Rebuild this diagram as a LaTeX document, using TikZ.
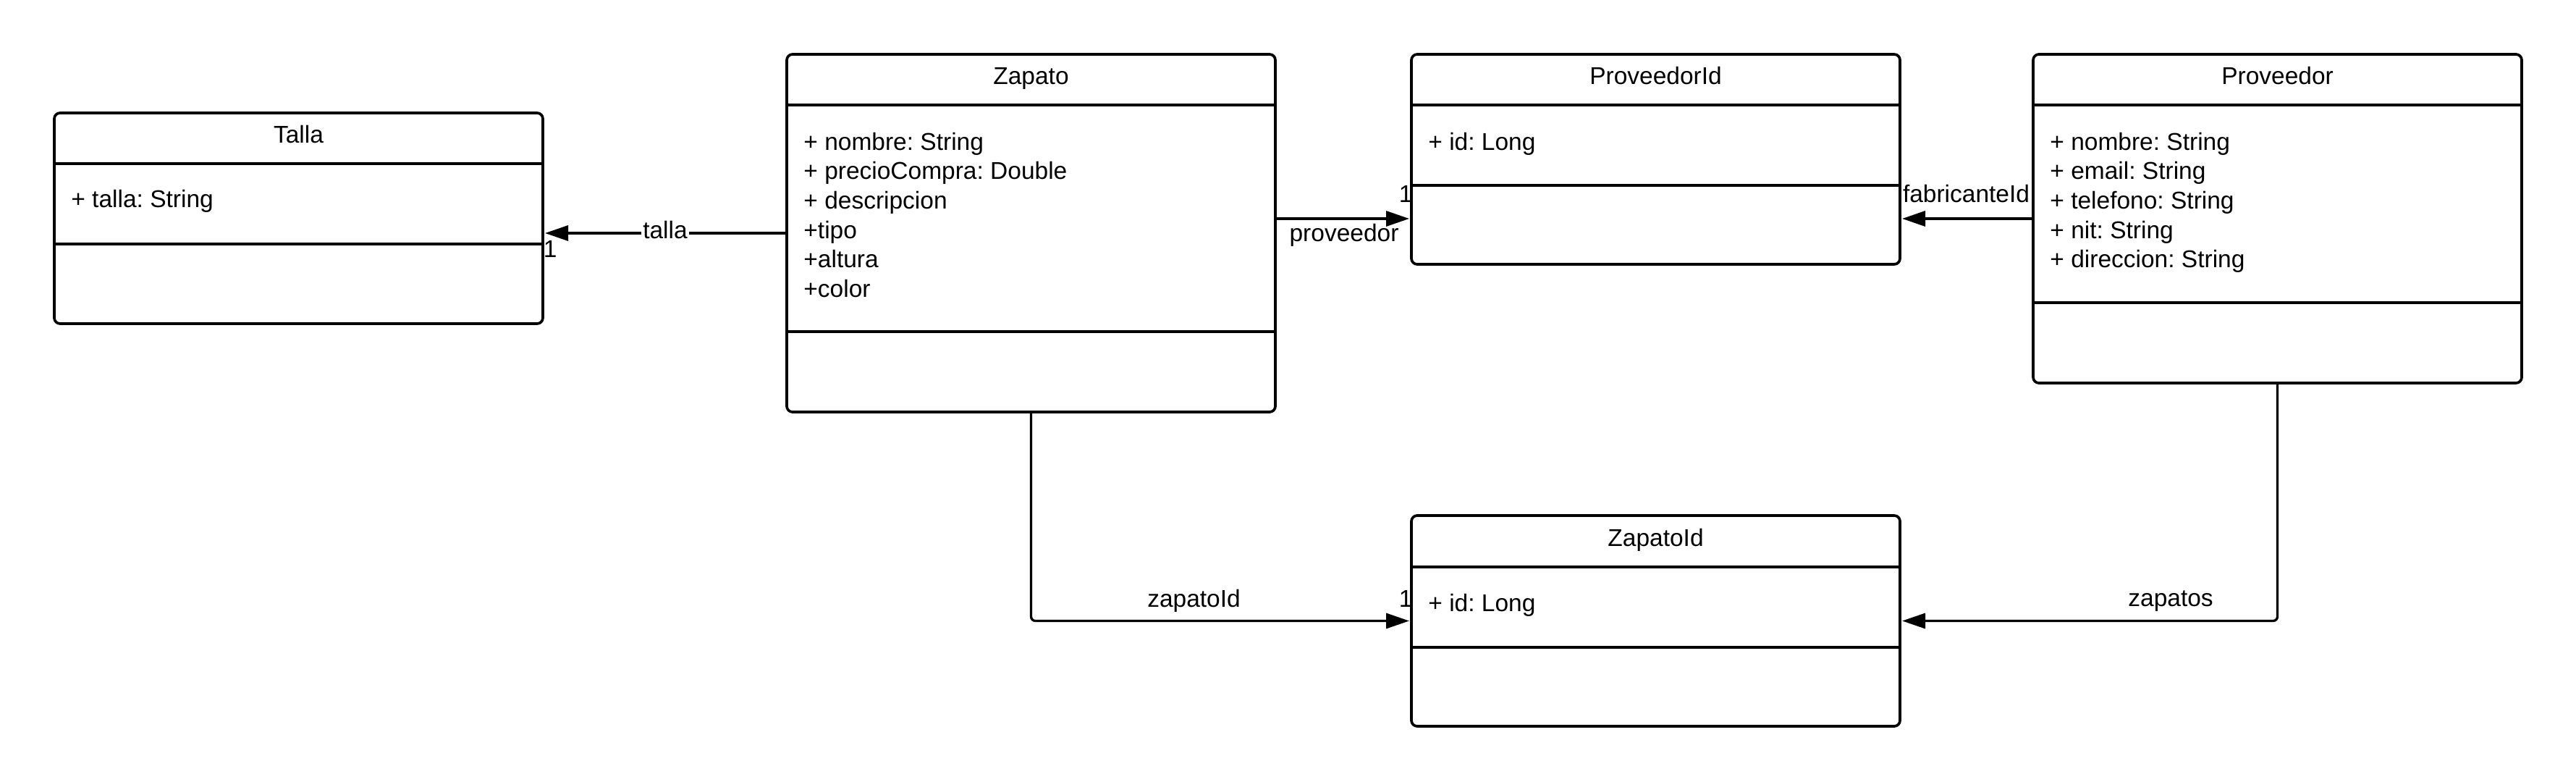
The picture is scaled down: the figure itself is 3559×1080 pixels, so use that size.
\documentclass[tikz,border=0pt]{standalone}
\usepackage{fontspec}
\setmainfont{Liberation Sans}
\usetikzlibrary{arrows.meta}
\frenchspacing
\begin{document}
\frenchspacing
\begin{tikzpicture}[x=0.5pt,y=-0.5pt,
  every node/.style={font=\fontsize{16.75}{20}\selectfont\frenchspacing, inner sep=0pt},
  classbox/.style={draw, line width=1.85pt, rounded corners=4pt, minimum width=337.5pt,
    anchor=north west, inner sep=0pt, outer sep=0pt},
  sepline/.style={line width=1.85pt},
  title/.style={anchor=base},
  attr/.style={anchor=base west},
  conn/.style={line width=1.65pt, rounded corners=3pt,
    -{Triangle[length=16pt,width=10.5pt]}, shorten >=1.5pt},
  lbl/.style={anchor=base},
]
\path[use as bounding box] (0,0) rectangle (3559,1080);

% class boxes
\node[classbox, minimum height=145.5pt] (talla)  at (75,156)   {};
\node[classbox, minimum height=247pt]   (zapato) at (1087,75)  {};
\node[classbox, minimum height=145pt]   (provid) at (1950,75)  {};
\node[classbox, minimum height=227pt]   (prov)   at (2809,75)  {};
\node[classbox, minimum height=145.5pt] (zapid)  at (1950,712) {};

% compartment lines
\draw[sepline] ([yshift=-35pt]talla.north west) -- ([yshift=-35pt]talla.north east);
\draw[sepline] ([yshift=-90.5pt]talla.north west) -- ([yshift=-90.5pt]talla.north east);
\draw[sepline] ([yshift=-35pt]zapato.north west) -- ([yshift=-35pt]zapato.north east);
\draw[sepline] ([yshift=-191.5pt]zapato.north west) -- ([yshift=-191.5pt]zapato.north east);
\draw[sepline] ([yshift=-35pt]provid.north west) -- ([yshift=-35pt]provid.north east);
\draw[sepline] ([yshift=-90.5pt]provid.north west) -- ([yshift=-90.5pt]provid.north east);
\draw[sepline] ([yshift=-35pt]prov.north west) -- ([yshift=-35pt]prov.north east);
\draw[sepline] ([yshift=-171.5pt]prov.north west) -- ([yshift=-171.5pt]prov.north east);
\draw[sepline] ([yshift=-35.5pt]zapid.north west) -- ([yshift=-35.5pt]zapid.north east);
\draw[sepline] ([yshift=-91pt]zapid.north west) -- ([yshift=-91pt]zapid.north east);

% titles
\node[title] (tallaT)  at ([yshift=-21pt]talla.north)  {Talla};
\node[title] (zapatoT) at ([yshift=-21pt]zapato.north) {Zapato};
\node[title] (providT) at ([yshift=-21pt]provid.north) {ProveedorId};
\node[title] (provT)   at ([yshift=-21pt]prov.north)   {Proveedor};
\node[title] (zapidT)  at ([yshift=-21pt]zapid.north)  {ZapatoId};

% attributes
\node[attr] (tallaA1) at ([xshift=11.5pt,yshift=-65.5pt]talla.north west) {+ talla: String};
\foreach \t [count=\i] in {+ nombre: String, + precioCompra: Double, + descripcion, +tipo, +altura, +color}
  \node[attr] (zapatoA\i) at ([xshift=11.5pt,yshift={-66.2pt-(\i-1)*20.3pt}]zapato.north west) {\t};
\node[attr] (providA1) at ([xshift=11.5pt,yshift=-66.2pt]provid.north west) {+ id: Long};
\foreach \t [count=\i] in {+ nombre: String, + email: String, + telefono: String, + nit: String, + direccion: String}
  \node[attr] (provA\i) at ([xshift=11.5pt,yshift={-66.2pt-(\i-1)*20.3pt}]prov.north west) {\t};
\node[attr] (zapidA1) at ([xshift=11.5pt,yshift=-66.2pt]zapid.north west) {+ id: Long};

% connectors
\draw[conn] (zapato.west) -- (zapato.west -| talla.east);
\draw[conn] (zapato.east |- prov.west) -- (provid.west |- prov.west);
\draw[conn] (prov.west) -- (prov.west -| provid.east);
\draw[conn] (zapato.south) |- (zapid.west);
\draw[conn] (prov.south) |- (zapid.east);

% connector labels
\node[lbl, fill=white, inner xsep=1pt] (lTalla) at (919,330) {talla};
\node[anchor=base west] (mTalla) at (750.5,356) {1};
\node[lbl] (lProv) at (1857,334) {proveedor};
\node[anchor=base east] (mProvid) at (1952,280) {1};
\node[lbl] (lFab) at (2716.5,280) {fabricanteId};
\node[lbl] (lZapid) at (1649.5,838) {zapatoId};
\node[anchor=base east] (mZapid) at (1952,838) {1};
\node[lbl] (lZapatos) at (2999,837) {zapatos};
\end{tikzpicture}
\end{document}
